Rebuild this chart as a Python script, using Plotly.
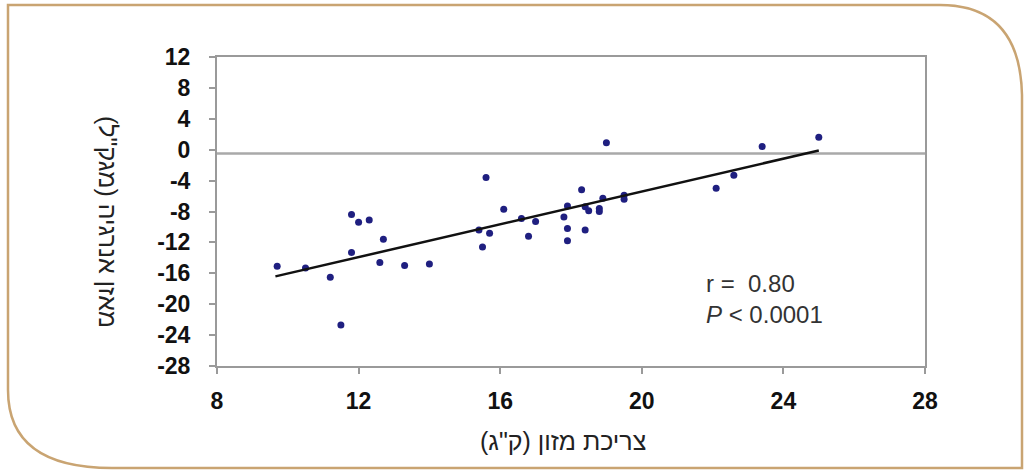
import plotly.graph_objects as go

# ---- data ----
food_intake = [9.7, 10.5, 11.2, 11.5, 11.8, 12.0, 12.3, 11.8, 12.7, 12.6, 13.3, 14.0,
               15.4, 15.5, 15.7, 15.6, 16.1, 16.6, 16.8, 17.0, 17.9, 17.8, 17.9, 17.9,
               18.3, 18.4, 18.4, 18.5, 18.8, 18.8, 18.9, 19.5, 19.5, 19.0, 22.1, 22.6,
               23.4, 25.0]
energy_balance = [-15.1, -15.3, -16.5, -22.7, -8.4, -9.4, -9.1, -13.3, -11.6, -14.6, -15.0, -14.8,
                  -10.4, -12.6, -10.8, -3.6, -7.7, -8.9, -11.2, -9.3, -7.3, -8.7, -10.2, -11.8,
                  -5.2, -10.4, -7.4, -7.9, -7.6, -8.0, -6.3, -5.9, -6.4, 0.9, -5.0, -3.3,
                  0.4, 1.6]
trend_x = [9.65, 25.0]
trend_y = [-16.4, -0.1]
ref_level = -0.5
x_ticks = [8, 12, 16, 20, 24, 28]
y_ticks = [12, 8, 4, 0, -4, -8, -12, -16, -20, -24, -28]
x_title = "צריכת מזון (ק\"ג)"
y_title = "מאזן אנרגיה (מגק\"ל)"
stats_text = "r =  0.80<br><i>P</i> < 0.0001"

W, H = 1027, 473
L, R, T, B = 217, 925, 57, 366


def px(x):
    return (x - L) / (R - L)


def py(y):
    return (B - y) / (B - T)


fig = go.Figure()
fig.add_trace(go.Scatter(x=[8, 28], y=[ref_level, ref_level], mode="lines",
                         line=dict(color="#a9a9a9", width=2.5), hoverinfo="skip",
                         showlegend=False))
fig.add_trace(go.Scatter(x=food_intake, y=energy_balance, mode="markers",
                         marker=dict(color="#1f1f80", size=7, symbol="circle"),
                         showlegend=False))
fig.add_trace(go.Scatter(x=trend_x, y=trend_y, mode="lines",
                         line=dict(color="#111111", width=2.5), showlegend=False))

axis_font = dict(family="Liberation Sans, Arial, sans-serif", size=23, color="#111111",
                 weight="bold")
fig.update_xaxes(range=[8, 28], tickvals=x_ticks, ticktext=[str(v) for v in x_ticks],
                 showgrid=False, zeroline=False, showline=True, linecolor="#9a9a9a",
                 linewidth=2, mirror=True, ticks="outside", ticklen=6, tickcolor="#9a9a9a",
                 tickwidth=1.5, tickfont=axis_font, ticklabelstandoff=7)
fig.update_yaxes(range=[-28, 12], tickvals=y_ticks, ticktext=[str(v) for v in y_ticks],
                 showgrid=False, zeroline=False, showline=True, linecolor="#9a9a9a",
                 linewidth=2, mirror=True, ticks="outside", ticklen=6, tickcolor="#9a9a9a",
                 tickwidth=1.5, tickfont=axis_font, ticklabelstandoff=14)

text_font = dict(family="Liberation Sans, Arial, sans-serif", size=25, color="#222222")
annotations = [
    dict(x=21.75, y=-19.3, xref="x", yref="y", text=stats_text, showarrow=False,
         xanchor="left", yanchor="middle", align="left",
         font=dict(text_font, size=24, color="#333333")),
    dict(x=px(563), y=py(441), xref="paper", yref="paper", text=x_title, showarrow=False,
         xanchor="center", yanchor="middle", font=text_font),
    dict(x=px(108), y=py(222), xref="paper", yref="paper", text=y_title, showarrow=False,
         textangle=90, xanchor="center", yanchor="middle", font=text_font),
]

frame_path = (f"M {px(112)},{py(468)} Q {px(8)},{py(468)} {px(8)},{py(390)} "
              f"L {px(8)},{py(5)} L {px(940)},{py(5)} "
              f"Q {px(1020)},{py(5)} {px(1022)},{py(95)} "
              f"L {px(1022)},{py(468)} Z")
shapes = [dict(type="path", xref="paper", yref="paper", path=frame_path,
               line=dict(color="#c9a472", width=2.5), fillcolor="rgba(0,0,0,0)", layer="below")]

fig.update_layout(width=W, height=H, margin=dict(l=L, r=W - R, t=T, b=H - B),
                  paper_bgcolor="white", plot_bgcolor="white",
                  annotations=annotations, shapes=shapes, showlegend=False)

fig.write_html("out.html")
